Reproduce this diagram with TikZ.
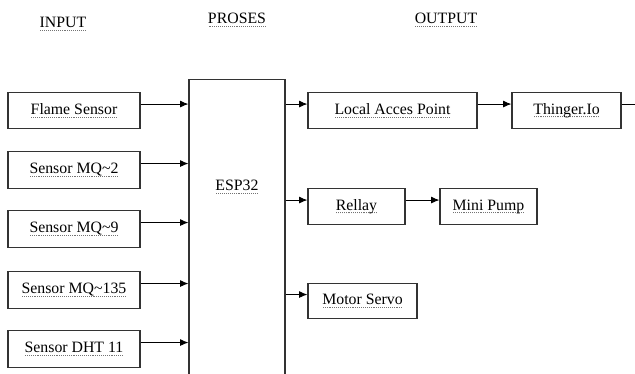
\documentclass[tikz,border=0pt]{standalone}
\usepackage{fontspec}
\setmainfont{Liberation Serif}
\usetikzlibrary{arrows.meta,calc}

% dotted spell-check style underline
\newsavebox\dubox
\newcommand\dotund[1]{\sbox\dubox{#1}%
  \rlap{\color{black!55}\raisebox{-2.6pt}{\hbox to \wd\dubox{\xleaders\hbox to 1.6pt{\hss\rule{0.8pt}{0.8pt}\hss}\hfill}}}%
  \usebox\dubox}

\begin{document}
\begin{tikzpicture}[
  x=0.03cm, y=-0.03cm,
  font=\fontsize{13.5}{15}\selectfont,
  blk/.style={draw=black!80, line width=1pt, fill=white, align=center, inner sep=2pt},
  inbox/.style={blk, minimum width=3.96cm, minimum height=1.1cm},
  outbox/.style={blk, minimum height=1.07cm},
  flow/.style={-{Latex[length=2.5mm, width=2.1mm]}, line width=0.8pt},
  ttl/.style={inner sep=1pt},
]
\useasboundingbox (0,0) rectangle (635,374);
\clip (0,0) rectangle (635,374);

% ---------------- column titles ----------------
\node[ttl] (tin)  at (63,24)  {\dotund{INPUT}};
\node[ttl] (tpro) at (237,20) {\dotund{PROSES}};
\node[ttl] (tout) at (446,20) {\dotund{OUTPUT}};

% ---------------- ESP32 (runs off the bottom) ----------------
\node[blk, anchor=north, minimum width=2.88cm, minimum height=10cm] (esp) at (237,79) {};
\node (esplbl) at (237,187) {\dotund{ESP32}};

% ---------------- sensors ----------------
\foreach \i/\y/\txt in {1/110.5/Flame Sensor,
                        2/170/Sensor MQ\textasciitilde 2,
                        3/229/Sensor MQ\textasciitilde 9,
                        4/290/Sensor MQ\textasciitilde 135,
                        5/349/Sensor DHT 11} {
  \node[inbox] (s\i) at (74,\y) {\dotund{\txt}};
  \coordinate (a\i) at ([yshift=5.5pt]s\i.east);
  \draw[flow] (a\i) -- (a\i -| esp.west);
}

% ---------------- outputs ----------------
\node[outbox, minimum width=5.07cm] (lap) at (392.5,110.5) {\dotund{Local Acces Point}};
\node[outbox, minimum width=3.27cm] (thg) at (566.5,110.5) {\dotund{Thinger.Io}};
\node[outbox, minimum width=2.91cm] (rly) at (356.5,206.5) {\dotund{Rellay}};
\node[outbox, minimum width=2.91cm] (pmp) at (488.5,206.5) {\dotund{Mini Pump}};
\node[outbox, minimum width=3.27cm] (srv) at (362.5,301) {\dotund{Motor Servo}};

\coordinate (blap) at ([yshift=5.5pt]lap.west);
\coordinate (brly) at ([yshift=5.5pt]rly.west);
\coordinate (bsrv) at ([yshift=5.5pt]srv.west);
\draw[flow] (blap -| esp.east) -- (blap);
\draw[flow] (brly -| esp.east) -- (brly);
\draw[flow] (bsrv -| esp.east) -- (bsrv);

\coordinate (clap) at ([yshift=5.5pt]lap.east);
\draw[flow] (clap) -- (clap -| thg.west);
\coordinate (crly) at ([yshift=5.5pt]rly.east);
\draw[flow] (crly) -- (crly -| pmp.west);

% line leaving Thinger.Io past the edge
\coordinate (cthg) at ([yshift=5.5pt]thg.east);
\coordinate (edge) at (650,104);
\draw[line width=0.8pt] (cthg) -- (cthg -| edge);

\end{tikzpicture}
\end{document}
